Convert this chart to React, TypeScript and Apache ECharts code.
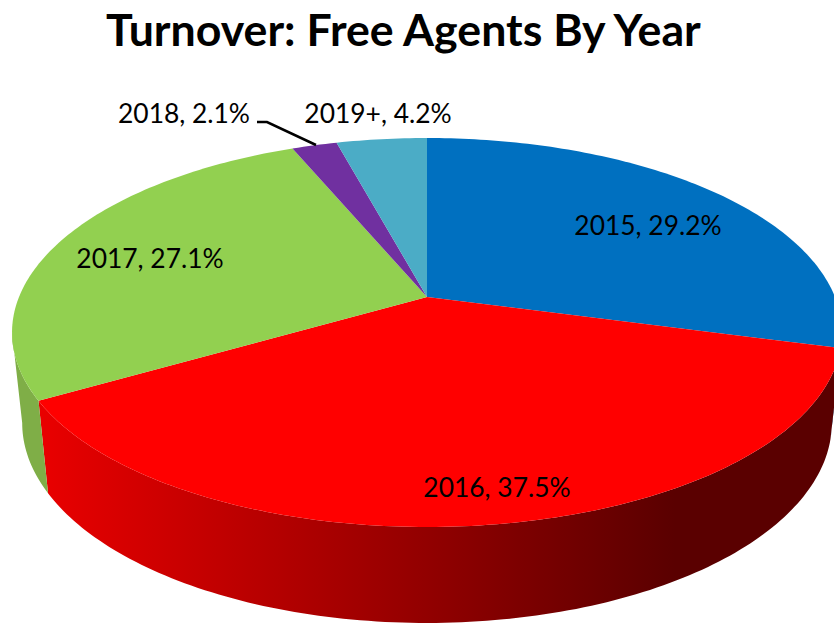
import React, { useEffect, useRef } from "react";
import * as echarts from "echarts";

const titleText = "Turnover: Free Agents By Year";
const categories = ["2015", "2016", "2017", "2018", "2019+"];
const shares = [29.2, 37.5, 27.1, 2.1, 4.2];

const faceColors = ["#0070c0", "#ff0000", "#92d050", "#7030a0", "#4bacc6"];
const labelAnchors = [
  [648, 225],
  [497, 487],
  [150, 258],
  [184, 113],
  [378, 113],
];

// Perspective disc: top rim and bottom rim of the 3D pie.
const K = 0.1825;
const topRim = { cx: 427, cy: 297, a: 188, b: 408 };
const bottomRim = { cx: 427, cy: 386.5, a: 193.3, b: 398 };
const VISIBLE_FROM = 100.5;
const VISIBLE_TO = 259.5;

const total = shares.reduce((s, v) => s + v, 0);
const startDeg = (i: number) =>
  (shares.slice(0, i).reduce((s, v) => s + v, 0) / total) * 360;

function project(rim: typeof topRim, deg: number, r = 1): number[] {
  const t = (deg * Math.PI) / 180;
  const X = r * Math.sin(t);
  const Y = -r * Math.cos(t);
  const w = 1 - K * Y;
  return [rim.cx + (rim.b * X) / w, rim.cy + (rim.a * Y) / w];
}

function arc(rim: typeof topRim, from: number, to: number): number[][] {
  const pts: number[][] = [];
  const n = Math.max(2, Math.ceil(Math.abs(to - from)));
  for (let i = 0; i <= n; i++) pts.push(project(rim, from + ((to - from) * i) / n));
  return pts;
}

const redWall = new echarts.graphic.LinearGradient(
  37,
  0,
  834,
  0,
  [
    { offset: 0, color: "#ea0000" },
    { offset: 0.8, color: "#5a0000" },
    { offset: 1, color: "#5a0000" },
  ],
  true
);
const wallFills: any[] = ["#00508a", redWall, "#7fae47", "#50207a", "#35879c"];

export default function App() {
  const ref = useRef<HTMLDivElement>(null);
  useEffect(() => {
    document.body.style.margin = "0";
    const chart = echarts.init(ref.current!, undefined, { renderer: "svg" });
    const data = categories.map((name, i) => ({ name, value: shares[i] }));
    chart.setOption({
      animation: false,
      backgroundColor: "#ffffff",
      title: {
        text: titleText,
        left: 101,
        top: 1,
        textStyle: {
          fontFamily: "Lato",
          fontSize: 44.7,
          fontWeight: "bold",
          color: "#000000",
        },
      },
      series: [
        {
          type: "custom",
          coordinateSystem: "none",
          silent: true,
          z: 1,
          data,
          renderItem: (params: any) => {
            const i = params.dataIndex;
            const from = Math.max(startDeg(i), VISIBLE_FROM);
            const to = Math.min(startDeg(i + 1), VISIBLE_TO);
            if (to <= from) return { type: "group", children: [] };
            const points = [...arc(topRim, from, to), ...arc(bottomRim, to, from)];
            return {
              type: "polygon",
              shape: { points },
              style: { fill: wallFills[i] },
            };
          },
        },
        {
          type: "custom",
          coordinateSystem: "none",
          silent: true,
          z: 2,
          data,
          renderItem: (params: any) => {
            const i = params.dataIndex;
            const points = [
              project(topRim, 0, 0),
              ...arc(topRim, startDeg(i), startDeg(i + 1)),
            ];
            return {
              type: "polygon",
              shape: { points },
              style: { fill: faceColors[i] },
            };
          },
        },
        {
          type: "custom",
          coordinateSystem: "none",
          silent: true,
          z: 3,
          data,
          renderItem: (params: any, api: any) => {
            const i = params.dataIndex;
            const [x, y] = labelAnchors[i];
            return {
              type: "text",
              x,
              y,
              style: {
                text: `${categories[i]}, ${Number(api.value(0)).toFixed(1)}%`,
                fontFamily: "Lato",
                fontSize: 26.4,
                fill: "#000000",
                align: "center",
                verticalAlign: "middle",
              },
            };
          },
        },
      ],
      graphic: [
        {
          type: "polyline",
          z: 10,
          shape: {
            points: [
              [257, 122],
              [267, 122],
              [316, 145],
            ],
          },
          style: { stroke: "#000000", lineWidth: 2.5, fill: "none" },
        },
      ],
    });
    return () => chart.dispose();
  }, []);
  return (
    <div
      ref={ref}
      style={{ position: "absolute", left: 0, top: 0, width: 834, height: 623 }}
    />
  );
}
